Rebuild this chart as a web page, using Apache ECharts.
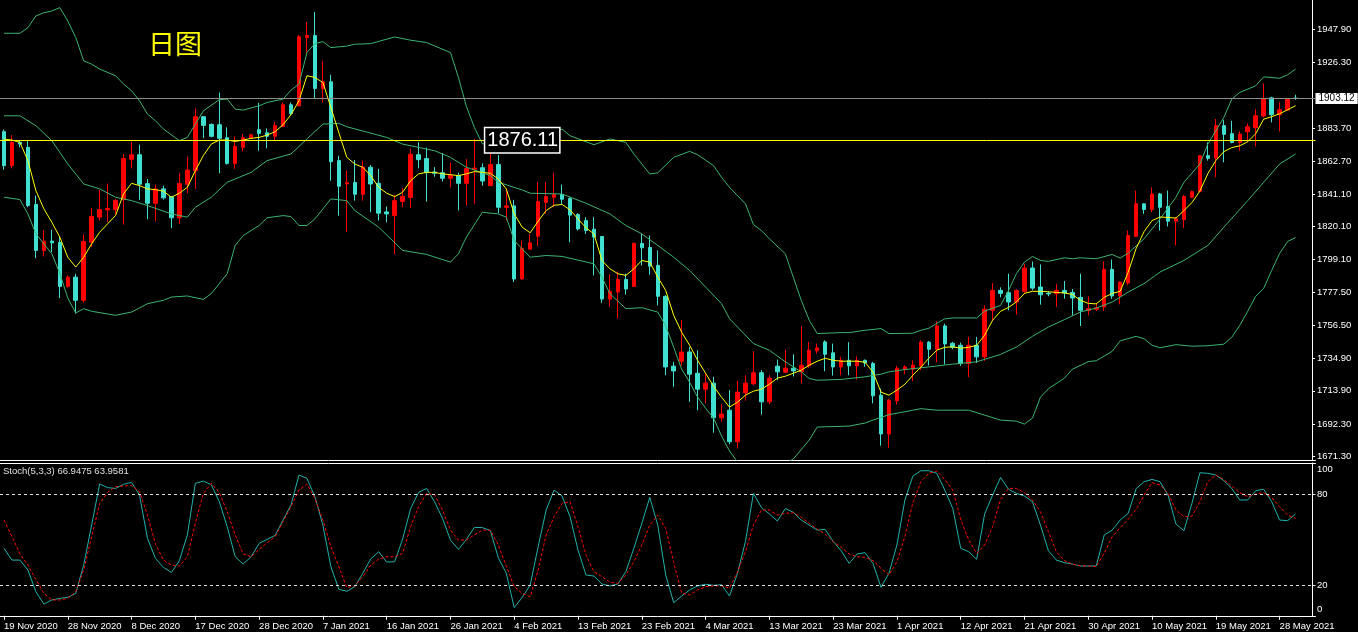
<!DOCTYPE html>
<html><head><meta charset="utf-8">
<script src="https://cdn.jsdelivr.net/npm/echarts@6/dist/echarts.min.js"></script>
<style>html,body{margin:0;padding:0;background:#000;}#c{width:1358px;height:632px;}</style>
</head><body><div id="c"></div>
<script>
const dateLabels = ['19 Nov 2020','28 Nov 2020','8 Dec 2020','17 Dec 2020','28 Dec 2020','7 Jan 2021','16 Jan 2021','26 Jan 2021','4 Feb 2021','13 Feb 2021','23 Feb 2021','4 Mar 2021','13 Mar 2021','23 Mar 2021','1 Apr 2021','12 Apr 2021','21 Apr 2021','30 Apr 2021','10 May 2021','19 May 2021','28 May 2021'];
const priceTicks = [1671.30,1692.30,1713.90,1734.90,1756.50,1777.50,1799.10,1820.10,1841.10,1862.70,1883.70,1926.30,1947.90];
const stochTicks = [0,20,80,100];
const lastPrice = 1903.12;
const levelPrice = 1876.11;
const chartTitle = '日图';
const stochTitle = 'Stoch(5,3,3) 66.9475 63.9581';

const opens = [1881.6,1859.6,1874.7,1871.5,1834.5,1804.8,1810.8,1809.9,1781.5,1787.5,
1772.5,1810.1,1826.3,1831.0,1831.2,1837.7,1863.7,1866.7,1848.0,1835.3,
1844.6,1839.6,1825.9,1847.6,1856.4,1891.3,1886.3,1886.1,1877.7,1861.1,
1871.5,1877.5,1882.9,1880.9,1878.6,1885.0,1899.0,1898.4,1942.5,1943.8,
1909.6,1913.9,1862.9,1847.8,1848.7,1841.1,1858.6,1848.2,1829.7,1827.3,
1836.4,1839.0,1866.7,1864.2,1855.5,1855.1,1851.5,1853.2,1848.2,1857.3,
1858.3,1846.7,1860.3,1832.7,1833.6,1786.3,1805.6,1814.0,1835.9,1839.2,
1840.9,1838.3,1828.0,1824.1,1818.5,1813.8,1773.3,1777.8,1786.0,1781.5,
1809.3,1806.7,1795.1,1775.1,1729.9,1733.1,1739.1,1725.3,1715.0,1718.9,
1696.5,1701.4,1681.0,1712.6,1718.5,1725.6,1706.8,1729.9,1726.0,1728.6,
1726.2,1730.1,1739.8,1745.6,1738.5,1729.4,1733.7,1730.1,1733.7,1731.6,
1711.1,1686.0,1707.5,1727.9,1727.9,1730.1,1745.4,1740.8,1755.9,1744.7,
1743.4,1731.6,1743.4,1735.9,1766.0,1778.9,1777.4,1771.4,1778.3,1793.4,
1781.1,1777.0,1776.8,1778.9,1777.6,1774.4,1766.0,1766.7,1768.2,1792.5,
1775.3,1783.7,1814.0,1834.9,1831.2,1841.3,1833.2,1823.7,1824.8,1839.2,
1842.8,1866.1,1864.6,1885.5,1880.3,1874.7,1881.6,1884.2,1891.7,1903.5,
1892.6,1895.6,1903.3];
const closes = [1859.6,1874.7,1873.6,1833.8,1804.8,1810.8,1809.7,1781.5,1787.5,1772.5,
1810.6,1826.7,1831.2,1831.9,1837.0,1864.2,1866.7,1847.6,1835.3,1844.6,
1838.8,1825.9,1848.0,1856.8,1891.3,1885.7,1878.6,1877.3,1861.1,1872.1,
1877.7,1879.6,1880.5,1878.6,1885.5,1899.0,1893.4,1943.1,1943.8,1909.6,
1913.9,1862.2,1846.3,1848.6,1841.1,1858.6,1847.8,1828.9,1828.4,1837.0,
1839.6,1867.0,1863.5,1855.1,1854.7,1851.5,1853.4,1848.2,1857.7,1858.1,
1849.7,1860.3,1832.7,1833.6,1786.3,1806.1,1809.7,1836.4,1839.6,1840.9,
1837.9,1827.6,1818.7,1817.7,1813.4,1773.3,1778.3,1786.0,1779.8,1809.3,
1806.5,1794.6,1775.1,1729.4,1726.8,1739.1,1724.7,1715.0,1718.9,1696.5,
1698.9,1681.0,1713.1,1718.9,1725.6,1706.8,1722.1,1726.2,1728.6,1726.8,
1730.5,1740.2,1741.7,1737.6,1729.4,1733.7,1730.1,1733.7,1732.0,1710.7,
1686.0,1707.9,1728.6,1729.4,1730.5,1745.4,1740.8,1755.9,1744.3,1742.1,
1731.6,1743.4,1735.9,1766.7,1778.9,1777.0,1771.4,1778.9,1793.4,1780.4,
1776.1,1776.6,1778.9,1777.2,1774.0,1766.0,1767.1,1767.7,1792.5,1775.3,
1784.3,1814.4,1834.9,1831.2,1841.3,1832.7,1823.7,1825.2,1839.6,1842.8,
1866.1,1864.4,1885.5,1879.9,1874.7,1880.1,1884.8,1891.9,1903.1,1892.6,
1895.8,1903.1,1903.12];
const lows = [1857.0,1857.9,1871.5,1832.7,1799.8,1800.9,1803.7,1774.0,1780.6,1763.9,
1771.0,1806.9,1824.1,1823.0,1828.4,1821.5,1857.9,1837.5,1825.0,1823.7,
1837.7,1819.2,1822.0,1841.8,1844.6,1877.5,1877.9,1854.7,1860.3,1857.5,
1868.9,1877.1,1869.3,1870.8,1875.8,1884.8,1891.9,1897.9,1932.2,1903.3,
1900.5,1849.9,1827.3,1816.6,1837.0,1837.0,1829.5,1824.1,1823.0,1802.2,
1832.7,1832.3,1857.9,1836.4,1852.5,1849.3,1845.6,1830.6,1833.8,1834.9,
1846.7,1846.7,1828.9,1824.1,1784.3,1785.8,1805.6,1807.5,1828.4,1832.7,
1834.9,1810.1,1817.7,1815.5,1788.6,1770.8,1768.2,1760.6,1776.3,1781.1,
1795.1,1789.0,1769.2,1724.0,1716.5,1730.3,1706.8,1701.4,1705.8,1686.8,
1694.1,1679.3,1676.5,1707.5,1717.6,1698.6,1705.3,1720.8,1725.3,1723.2,
1718.7,1728.8,1738.0,1726.6,1723.8,1724.0,1724.0,1721.3,1729.4,1705.8,
1678.4,1677.1,1705.1,1724.7,1720.2,1727.3,1730.3,1732.4,1731.1,1740.8,
1730.1,1722.8,1732.0,1733.3,1759.1,1774.4,1766.0,1763.2,1776.8,1778.9,
1769.7,1775.1,1768.2,1773.5,1762.8,1755.9,1762.8,1765.6,1765.6,1773.5,
1769.9,1782.2,1813.4,1828.4,1829.5,1817.7,1820.3,1808.0,1819.2,1838.5,
1842.8,1862.9,1852.1,1861.8,1874.1,1869.3,1875.8,1872.1,1890.8,1887.6,
1881.8,1895.1,1902.2];
const highs = [1883.0,1879.4,1875.8,1876.2,1840.3,1817.7,1818.1,1813.4,1788.6,1789.7,
1815.1,1832.3,1843.9,1848.0,1838.1,1867.2,1874.9,1873.2,1851.0,1847.4,
1846.7,1839.8,1854.9,1865.5,1896.7,1891.5,1887.0,1907.0,1884.4,1878.6,
1880.1,1880.1,1900.3,1883.7,1888.0,1900.5,1900.5,1944.2,1952.6,1959.1,
1927.4,1918.4,1866.1,1856.4,1863.3,1862.9,1860.1,1857.5,1833.2,1840.7,
1845.2,1870.6,1874.9,1871.3,1858.6,1867.8,1861.6,1855.1,1863.9,1876.9,
1861.1,1872.0,1866.5,1844.8,1837.5,1811.2,1815.5,1848.9,1848.9,1855.1,
1847.4,1839.2,1828.9,1826.3,1826.3,1813.8,1789.3,1791.2,1789.7,1810.1,
1815.5,1814.4,1804.8,1775.7,1732.7,1759.6,1742.3,1740.2,1725.6,1723.0,
1705.3,1714.4,1720.4,1724.0,1739.5,1727.3,1724.0,1734.2,1740.6,1737.6,
1755.7,1745.6,1744.5,1746.6,1744.5,1735.9,1745.4,1736.3,1734.2,1732.7,
1715.4,1708.6,1730.1,1730.5,1733.7,1746.6,1746.2,1758.9,1757.4,1745.6,
1745.1,1748.8,1748.8,1769.2,1783.6,1780.9,1789.7,1779.6,1796.1,1797.6,
1795.7,1778.5,1783.2,1785.0,1779.8,1789.7,1775.1,1770.8,1797.6,1798.9,
1784.7,1817.7,1843.5,1835.3,1845.6,1842.0,1843.5,1826.3,1840.7,1843.5,
1866.5,1874.7,1889.8,1889.3,1888.7,1881.6,1887.0,1896.2,1912.8,1904.2,
1900.5,1903.3,1905.5];
const ma5 = [1876.8,1876.2,1874.7,1862.9,1843.5,1831.7,1823.0,1813.4,1800.4,1794.0,
1800.4,1809.1,1816.6,1822.0,1827.4,1841.4,1848.2,1846.7,1844.6,1844.1,
1843.1,1839.2,1841.8,1845.6,1856.4,1866.1,1873.6,1876.2,1876.2,1875.3,
1876.2,1877.3,1877.9,1879.4,1881.6,1886.1,1892.6,1901.6,1917.8,1916.7,
1913.4,1897.3,1881.0,1865.0,1860.7,1858.6,1853.2,1845.6,1841.8,1839.6,
1842.4,1849.9,1854.3,1855.3,1855.3,1854.3,1853.8,1853.2,1854.3,1855.8,
1855.3,1854.7,1851.0,1844.6,1828.4,1819.8,1816.2,1823.7,1830.6,1834.0,
1834.5,1831.0,1825.2,1819.4,1815.5,1798.3,1792.9,1789.7,1788.6,1792.9,
1798.3,1797.2,1787.5,1778.9,1762.8,1751.8,1743.4,1733.7,1725.3,1716.9,
1709.8,1703.4,1706.6,1711.1,1713.7,1715.0,1718.2,1722.1,1723.4,1725.3,
1727.3,1730.5,1733.1,1735.0,1733.7,1733.1,1733.1,1733.1,1732.4,1726.0,
1713.1,1711.1,1714.4,1718.2,1724.0,1729.2,1735.0,1740.2,1742.1,1742.4,
1741.5,1742.1,1743.4,1749.9,1759.6,1765.4,1767.9,1771.5,1777.0,1778.3,
1778.3,1778.0,1777.6,1777.3,1776.3,1772.5,1770.5,1770.2,1774.4,1777.0,
1778.3,1790.6,1806.0,1817.0,1824.1,1826.4,1826.1,1825.7,1830.6,1835.7,
1843.2,1854.5,1862.9,1868.7,1871.3,1872.5,1875.1,1880.3,1889.7,1891.3,
1893.2,1895.8,1898.4];
const upperBand = [[0,1945.3],[2,1945.3],[3,1948.9],[4,1956.5],[5,1958.6],[6,1959.7],[7,1961.9],[8,1953.3],[9,1942.5],[10,1927.4],[11,1925.3],[12,1922.1],[14,1917.8],[15,1912.4],[16,1908.1],[17,1901.6],[18,1893.0],[19,1888.7],[20,1883.3],[22,1875.8],[23,1877.9],[24,1886.5],[25,1895.1],[27,1902.3],[28,1902.7],[29,1896.2],[30,1895.6],[32,1898.4],[33,1900.5],[35,1902.7],[36,1908.5],[37,1912.4],[38,1932.8],[39,1938.6],[40,1939.9],[41,1936.0],[43,1937.0],[44,1938.2],[46,1938.6],[49,1942.9],[51,1940.8],[53,1939.3],[56,1932.8],[57,1916.7],[58,1898.0],[59,1884.4],[60,1873.8],[62,1872.0],[65,1874.0],[68,1880.0],[70,1883.3],[71,1879.0],[74,1873.2],[76,1876.9],[78,1874.7],[79,1867.2],[81,1854.2],[82,1855.0],[84,1865.0],[86,1868.9],[87,1866.7],[89,1859.6],[90,1852.1],[91,1845.6],[93,1834.9],[94,1821.5],[95,1817.7],[96,1812.3],[98,1802.6],[99,1787.5],[100,1772.5],[101,1759.6],[102,1751.0],[105,1751.6],[106,1751.6],[108,1753.1],[110,1754.2],[111,1751.0],[114,1751.2],[115,1753.1],[116,1754.4],[117,1757.6],[118,1760.5],[119,1761.1],[122,1761.1],[123,1765.5],[125,1769.2],[126,1778.9],[127,1789.9],[128,1797.2],[129,1800.9],[130,1798.3],[131,1797.7],[133,1800.0],[134,1799.4],[135,1800.0],[137,1799.4],[139,1802.2],[140,1799.8],[141,1803.0],[143,1812.3],[145,1825.2],[147,1839.2],[148,1848.9],[150,1860.7],[151,1873.6],[153,1890.8],[154,1902.7],[155,1907.0],[157,1911.3],[158,1917.1],[160,1916.2],[161,1918.4],[162,1922.1]];
const middleBand = [[0,1891.9],[2,1891.9],[4,1885.5],[6,1875.8],[8,1860.7],[10,1847.8],[12,1844.6],[14,1839.2],[16,1837.0],[18,1833.8],[21,1828.4],[23,1826.3],[24,1832.7],[26,1839.2],[28,1848.9],[31,1855.3],[33,1862.9],[36,1867.2],[38,1876.9],[40,1886.5],[42,1887.0],[43,1884.8],[48,1877.9],[50,1873.6],[54,1869.3],[56,1865.0],[58,1858.6],[61,1853.2],[62,1848.9],[65,1843.9],[66,1841.8],[70,1841.3],[73,1835.3],[76,1828.4],[78,1820.9],[80,1815.5],[82,1808.0],[84,1800.4],[86,1791.8],[88,1781.1],[90,1770.3],[91,1760.6],[94,1744.5],[96,1740.2],[98,1732.7],[100,1726.2],[101,1721.9],[102,1720.8],[105,1721.3],[108,1723.0],[110,1724.7],[111,1726.2],[113,1727.7],[116,1729.4],[119,1731.2],[122,1732.7],[125,1737.5],[127,1742.3],[129,1749.2],[131,1755.2],[133,1760.0],[135,1764.9],[137,1767.5],[139,1771.4],[141,1777.8],[143,1783.3],[145,1790.8],[148,1798.3],[151,1808.0],[153,1819.8],[156,1837.0],[158,1848.9],[160,1860.7],[162,1867.2]];
const lowerBand = [[0,1839.2],[2,1837.7],[3,1828.4],[4,1815.5],[6,1802.6],[7,1790.0],[8,1774.0],[9,1764.3],[10,1767.1],[11,1765.4],[14,1762.8],[16,1764.9],[18,1770.3],[20,1772.5],[21,1774.6],[23,1775.3],[25,1773.1],[26,1776.8],[28,1789.7],[29,1808.0],[30,1814.4],[32,1820.9],[33,1825.9],[35,1827.3],[36,1826.7],[37,1820.9],[38,1820.9],[39,1825.2],[41,1838.1],[43,1837.0],[44,1830.6],[47,1819.8],[50,1804.8],[53,1802.2],[56,1797.2],[57,1802.6],[58,1813.4],[60,1829.5],[62,1828.4],[63,1826.3],[64,1811.2],[66,1800.4],[68,1801.5],[70,1800.9],[74,1796.1],[75,1787.5],[76,1776.8],[78,1767.1],[80,1767.7],[82,1764.9],[83,1756.0],[84,1742.1],[85,1727.9],[86,1719.5],[87,1709.8],[88,1702.7],[89,1696.3],[90,1684.7],[91,1675.0],[92,1667.9],[93,1664.0],[95,1662.0],[97,1664.0],[99,1669.8],[101,1682.1],[102,1690.5],[106,1691.1],[108,1693.1],[109,1695.0],[111,1698.5],[114,1701.4],[115,1702.4],[117,1701.4],[121,1701.4],[123,1698.2],[125,1695.0],[127,1694.3],[128,1692.4],[129,1696.3],[130,1709.8],[131,1715.3],[133,1722.1],[134,1727.9],[136,1732.8],[137,1733.4],[139,1739.5],[140,1746.3],[142,1749.2],[143,1747.6],[144,1743.4],[145,1741.8],[147,1743.8],[149,1742.8],[151,1743.1],[153,1744.1],[154,1748.6],[155,1756.3],[156,1765.4],[157,1775.1],[158,1780.2],[159,1791.8],[160,1802.8],[161,1810.6],[162,1813.1]];
const stochK = [44.3,36.6,36.6,30.1,15.8,7.7,10.4,11.4,12.1,14.7,
33.4,59.8,86.6,84.2,83.7,86.4,87.7,79.3,50.9,37.7,
31.8,28.5,36.2,53.1,87.0,88.5,86.1,75.0,58.5,38.8,
34.0,38.8,47.6,50.2,52.8,62.9,72.8,92.5,90.3,78.2,
59.6,32.3,17.4,16.1,19.1,27.9,37.3,42.1,35.3,35.5,
50.4,70.4,81.1,83.7,75.0,64.0,49.8,43.6,50.2,58.1,
57.9,56.1,38.2,27.9,5.3,12.1,20.2,45.4,69.5,82.6,
78.7,65.1,43.2,26.8,26.1,20.9,19.6,20.9,29.0,44.3,
60.7,77.8,59.6,26.8,8.6,13.0,16.9,19.6,20.7,20.0,
20.4,13.0,27.9,48.7,80.4,71.2,66.9,62.3,70.4,68.0,
62.9,59.6,56.3,56.8,48.9,42.8,34.4,40.6,41.5,34.4,
18.7,27.9,46.5,76.1,91.8,95.3,95.3,93.6,82.6,70.6,
44.3,42.1,37.1,66.9,79.3,90.9,83.1,80.4,78.7,75.0,
59.6,42.8,36.6,34.9,34.0,32.7,32.7,32.7,53.1,56.3,
62.9,67.3,83.5,88.1,89.6,88.1,79.3,60.3,55.9,73.9,
94.0,93.6,92.5,88.8,83.7,76.1,76.1,82.2,83.1,75.0,
62.9,62.5,66.9];
const stochD = [62.9,52.0,40.6,33.3,23.9,14.7,10.4,10.4,11.4,15.8,
30.1,52.0,73.9,81.1,84.8,85.3,85.7,81.5,66.2,47.1,
36.6,33.3,32.7,38.8,60.7,80.4,87.0,80.9,68.4,53.1,
40.6,38.8,43.6,48.0,52.0,61.8,71.7,82.6,86.6,77.1,
62.9,45.4,32.3,18.5,19.6,25.7,33.3,37.3,38.8,38.8,
41.0,58.5,71.7,80.4,79.6,69.5,56.3,49.8,49.8,53.1,
56.3,56.3,46.5,32.7,19.1,14.7,12.5,30.1,53.1,65.1,
73.9,75.0,58.5,39.9,29.0,25.7,22.0,21.3,26.8,35.5,
46.5,59.6,66.2,57.4,35.0,15.0,13.6,16.9,19.1,19.6,
19.6,18.3,28.8,42.1,59.6,69.5,69.5,66.2,67.3,67.7,
64.7,60.7,57.0,53.7,48.7,45.0,40.6,38.8,38.4,36.2,
31.2,26.8,35.5,52.0,74.3,88.1,93.6,95.1,89.6,82.6,
63.4,49.8,41.0,46.5,58.5,76.5,83.7,83.7,80.9,76.1,
68.4,55.2,42.1,36.2,34.0,32.9,32.7,32.3,41.0,52.0,
57.9,63.4,69.9,79.3,87.5,85.9,80.4,69.5,65.1,65.5,
75.0,88.1,92.5,89.6,85.3,80.9,78.2,80.0,80.9,77.8,
71.7,66.2,64.0];

const slots = Array.from({length: opens.length + 2}, (_, i) => String(i));
const candles = opens.map((o, i) => [o, closes[i], lows[i], highs[i]]);
const W = '#ffffff';
const FONT = 'Liberation Sans, Arial, sans-serif';
const UP = '#ff0000', DOWN = '#40e0d0', BAND = '#3cb371';

const chart = echarts.init(document.getElementById('c'));
const bandLine = (name, data) => ({
  type: 'line', name, xAxisIndex: 0, yAxisIndex: 0, data, symbol: 'none', showSymbol: false,
  lineStyle: { color: BAND, width: 1 }, z: 3, silent: true
});
chart.setOption({
  backgroundColor: '#000',
  animation: false,
  title: [
    { text: chartTitle, left: 148, top: 30, padding: 0, textStyle: { color: '#ffff00', fontSize: 27, fontWeight: 'normal', fontFamily: 'Noto Sans CJK SC' } },
    { text: stochTitle, left: 3, top: 466, padding: 0, textStyle: { color: '#e0e0e0', fontSize: 9.5, fontWeight: 'normal', fontFamily: FONT } }
  ],
  grid: [
    { left: -4.5, top: -1, width: 1320, height: 461 },
    { left: -4.5, top: 463, width: 1320, height: 153 }
  ],
  xAxis: [
    { type: 'category', gridIndex: 0, data: slots, boundaryGap: true,
      axisLine: { show: true, lineStyle: { color: W, width: 1 } }, axisTick: { show: false }, axisLabel: { show: false }, splitLine: { show: false } },
    { type: 'category', gridIndex: 1, data: slots, boundaryGap: true, position: 'bottom',
      axisLine: { show: true, lineStyle: { color: W, width: 1 } },
      axisTick: { show: true, alignWithLabel: true, interval: 7, length: 4, lineStyle: { color: W } },
      axisLabel: { interval: 7, align: 'left', margin: 5, color: W, fontSize: 9.5, fontFamily: FONT,
        formatter: (v, idx) => dateLabels[idx / 8] || '' },
      splitLine: { show: false } },
    { type: 'category', gridIndex: 1, data: slots, boundaryGap: true, position: 'top',
      axisLine: { show: true, lineStyle: { color: W, width: 1 } }, axisTick: { show: false }, axisLabel: { show: false } }
  ],
  yAxis: [
    { type: 'value', gridIndex: 0, position: 'right', offset: -3.5, min: 1669.17, max: 1966.82,
      axisLine: { show: true, lineStyle: { color: W } },
      axisTick: { show: true, customValues: priceTicks, length: 3, lineStyle: { color: W } },
      axisLabel: { customValues: priceTicks, formatter: v => v.toFixed(2), color: W, fontSize: 9.5, fontFamily: FONT, margin: 5 },
      splitLine: { show: false } },
    { type: 'value', gridIndex: 1, position: 'right', offset: -3.5, min: -0.15, max: 100.4,
      axisLine: { show: true, lineStyle: { color: W } },
      axisTick: { show: true, customValues: stochTicks, length: 3, lineStyle: { color: W } },
      axisLabel: { customValues: stochTicks, color: W, fontSize: 9.5, fontFamily: FONT, margin: 5,
        formatter: v => v >= 100 ? '{a|100}' : (v <= 0 ? '{b|0}' : String(v)),
        rich: { a: { padding: [11, 0, 0, 0], color: W, fontSize: 9.5, fontFamily: FONT },
                b: { padding: [0, 0, 12, 0], color: W, fontSize: 9.5, fontFamily: FONT } } },
      splitLine: { show: false } }
  ],
  series: [
    { type: 'candlestick', xAxisIndex: 0, yAxisIndex: 0, data: candles, barWidth: 4, z: 2, silent: true,
      itemStyle: { color: UP, color0: DOWN, borderColor: UP, borderColor0: DOWN, borderWidth: 1 },
      markLine: { silent: true, symbol: ['none', 'none'], animation: false,
        data: [
          { yAxis: lastPrice, lineStyle: { color: '#8c8c8c', width: 1, type: 'solid' },
            label: { show: true, position: 'end', formatter: lastPrice.toFixed(2), color: '#000', backgroundColor: '#fff', padding: [1, 3, 0, 3], fontSize: 10, fontFamily: FONT, distance: 0 } },
          { yAxis: levelPrice, lineStyle: { color: '#ffff00', width: 1, type: 'solid' }, label: { show: false } }
        ] } },
    bandLine('upper', upperBand),
    bandLine('middle', middleBand),
    bandLine('lower', lowerBand),
    { type: 'line', name: 'ma', xAxisIndex: 0, yAxisIndex: 0, data: ma5, symbol: 'none', showSymbol: false,
      lineStyle: { color: '#ffff00', width: 1 }, z: 4, silent: true,
      markPoint: { silent: true, z: 10, symbol: 'circle', symbolSize: 1,
        itemStyle: { color: 'rgba(0,0,0,0)' },
        label: { show: true, position: 'inside', color: '#fff', fontSize: 20, fontFamily: FONT,
          backgroundColor: '#000', borderColor: '#fff', borderWidth: 1.5, padding: [3, 1, 1, 2], lineHeight: 20,
          formatter: levelPrice.toFixed(2) },
        data: [{ coord: [65, levelPrice] }] } },
    { type: 'line', name: 'K', xAxisIndex: 1, yAxisIndex: 1, data: stochK, symbol: 'none', showSymbol: false,
      lineStyle: { color: '#20b2aa', width: 1 }, z: 3, silent: true,
      markLine: { silent: true, symbol: ['none', 'none'], label: { show: false },
        lineStyle: { color: '#dddddd', width: 1, type: [3, 3] },
        data: [{ yAxis: 20 }, { yAxis: 80 }] } },
    { type: 'line', name: 'D', xAxisIndex: 1, yAxisIndex: 1, data: stochD, symbol: 'none', showSymbol: false,
      lineStyle: { color: '#ff0000', width: 1, type: [3, 2] }, z: 3, silent: true }
  ]
});
</script></body></html>
